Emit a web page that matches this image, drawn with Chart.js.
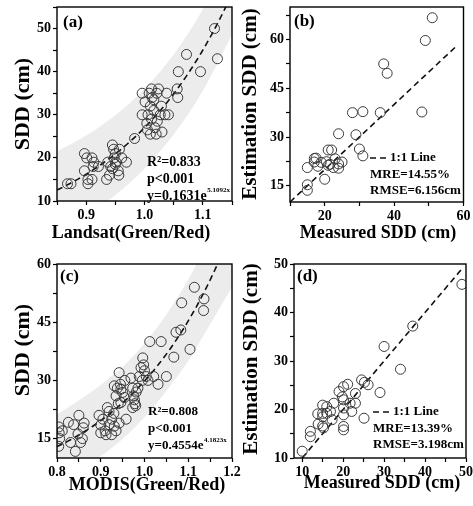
<!DOCTYPE html>
<html>
<head>
<meta charset="utf-8">
<script src="https://cdn.jsdelivr.net/npm/chart.js@4.4.1/dist/chart.umd.min.js"></script>
<style>
  html, body { margin: 0; padding: 0; background: #fff; }
  #fig { position: relative; width: 473px; height: 506px; overflow: hidden; }
  #fig canvas { position: absolute; }
</style>
</head>
<body>
<div id="fig">
  <canvas id="panelA" width="245" height="250" style="left:0;top:0"></canvas>
  <canvas id="panelC" width="245" height="256" style="left:0;top:250px"></canvas>
  <canvas id="panelB" width="236" height="250" style="left:237px;top:0"></canvas>
  <canvas id="panelD" width="236" height="256" style="left:237px;top:250px"></canvas>
</div>
<script>
// (a) Landsat band ratio vs measured SDD
const landsatRatio = [0.868, 0.874, 0.897, 0.901, 0.897, 0.903, 0.903, 0.910, 0.910, 0.913, 0.912, 0.921,
  0.935, 0.937, 0.940, 0.942, 0.945, 0.947, 0.948, 0.950, 0.951, 0.955, 0.956, 0.957, 0.961, 0.969, 0.945, 0.950,
  0.983,
  0.996, 0.996, 1.001, 1.004, 1.005, 1.006, 1.008, 1.010, 1.010, 1.012, 1.013, 1.016, 1.018, 1.020, 1.021, 1.024,
  1.027, 1.029, 1.030, 1.035, 1.038, 1.041, 1.012, 1.016, 1.022,
  1.056, 1.057, 1.058, 1.072, 1.096, 1.120, 1.125];
const landsatSDD = [14, 14, 21, 20, 17, 15, 14, 15, 20, 19, 18, 18,
  15, 19, 16, 18, 23, 22, 20, 21, 19, 17, 16, 22, 20, 19, 17.5, 18.5,
  24.5,
  35, 30, 33, 28, 26.5, 30, 35, 32, 25.5, 29, 34, 31, 27, 25.5, 35, 36,
  30, 32, 26, 30, 35, 30, 36, 33.5, 28.5,
  36, 34, 40, 44, 40, 50, 43];
const landsatFit = { coef: 0.1631, rate: 5.1092, r2: '0.833' };
const landsatBandX = [0.85, 0.90, 0.95, 1.00, 1.05, 1.10, 1.15];
const landsatBandHi = [21.5, 25.2, 29.9, 36, 44, 54.5, 68];
const landsatBandLo = [3, 6.7, 11.4, 17.5, 25.4, 35.5, 48.6];

// (b) Landsat estimate vs measured
const measuredB = [51, 49, 37, 38, 48, 28, 31, 36, 24, 29, 30, 31, 21, 22, 17, 15, 15, 15, 20, 17,
  18, 19, 20.5, 21.5, 23, 24, 25, 24, 22.5, 21, 17.5];
const estimatedB = [66.7, 59.7, 52.5, 49.6, 37.7, 37.5, 37.8, 37.5, 31, 30.7, 26.3, 24.2, 26, 26, 23.4, 20.6, 15.3, 13.6, 17, 22.3,
  21, 22.2, 22.4, 21.6, 23.3, 21.7, 22.3, 20.4, 20.6, 21.3, 23.5];
const statsB = { mre: '14.55%', rmse: '6.156cm' };

// (c) MODIS band ratio vs measured SDD
const modisRatio = [0.804, 0.805, 0.806, 0.804, 0.812, 0.831, 0.838, 0.842, 0.850, 0.854, 0.858, 0.860, 0.862, 0.848, 0.826,
  0.896, 0.900, 0.900, 0.905, 0.910, 0.912, 0.915, 0.919, 0.919, 0.925, 0.930, 0.931, 0.925, 0.935,
  0.931, 0.935, 0.938, 0.942, 0.945, 0.946, 0.946, 0.950, 0.954, 0.955, 0.940, 0.942, 0.958,
  0.969, 0.973, 0.975, 0.977, 0.978, 0.980, 0.981, 0.985, 0.973,
  0.988, 0.992, 0.996, 0.998, 1.000, 1.004, 1.008, 0.995,
  1.012, 1.021, 1.031, 1.038, 1.050, 1.067, 1.072, 1.083, 1.085, 1.104, 1.114, 1.135, 1.136];
const modisSDD = [18, 16.5, 15, 13, 17, 14, 18.6, 11.7, 21, 14, 15, 17.8, 19, 16.2, 19.2,
  21, 18.5, 16.5, 20, 17, 16, 23, 22, 18.6, 20, 21.5, 18.2, 16, 17,
  28.6, 26, 28, 32, 29, 27.7, 24.3, 26.9, 25.6, 30, 24, 19, 20,
  30.6, 28, 26, 25, 24, 23.5, 27, 28, 23,
  31, 33.3, 35.8, 34, 32.5, 31, 30, 30,
  40, 31, 29, 40, 31, 36, 42.4, 43, 50, 38, 54, 48, 51];
const modisFit = { coef: 0.4554, rate: 4.1823, r2: '0.808' };
const modisBandX = [0.80, 0.85, 0.90, 0.95, 1.00, 1.05, 1.10, 1.15, 1.20];
const modisBandHi = [21.3, 24.8, 28.8, 33.5, 39.5, 47, 56, 67, 80];
const modisBandLo = [4.5, 7.3, 10.5, 14.9, 20.5, 27.3, 35, 44.5, 54];

// (d) MODIS estimate vs measured
const measuredD = [49, 37, 30, 34, 29, 24.5, 25.2, 26.1, 23, 23, 21.1, 20.1, 19, 19.8, 20.1, 20.1, 20.1, 20.1, 20.1,
  21.7, 22.1, 25.1, 17.7, 17.3, 16, 16, 15, 15, 15, 15, 15.2, 13.8, 13.9, 12, 12, 10, 16.9];
const estimatedD = [45.8, 37.2, 33, 28.3, 23.5, 26.1, 25.6, 25.1, 23.3, 21.3, 25.2, 24.7, 23.7, 22.6, 22, 20.3, 18.9, 16.5, 15.8,
  21.3, 19.6, 18.2, 21.3, 17.9, 20.6, 19.2, 20.9, 19.2, 18.5, 16.6, 16.2, 19.1, 17, 15.5, 14.4, 11.4, 19.6];
const statsD = { mre: '13.39%', rmse: '3.198cm' };

// 1:1 reference line ends
const lineB = [10, 58];
const lineD = [10, 49];

// axis ranges and ticks (minor ticks carry no label)
const axesA = { xRange: [0.85, 1.15], yRange: [10, 55],
  x: [0.85, 0.9, 0.95, 1.0, 1.05, 1.1, 1.15], xLab: [0.9, 1.0, 1.1],
  y: [10, 15, 20, 25, 30, 35, 40, 45, 50, 55], yLab: [10, 20, 30, 40, 50] };
const axesB = { xRange: [10, 60], yRange: [10, 70],
  x: [10, 20, 30, 40, 50, 60], xLab: [20, 40, 60],
  y: [15, 22.5, 30, 37.5, 45, 52.5, 60, 67.5], yLab: [15, 30, 45, 60] };
const axesC = { xRange: [0.8, 1.2], yRange: [10, 60],
  x: [0.8, 0.85, 0.9, 0.95, 1.0, 1.05, 1.1, 1.15, 1.2], xLab: [0.8, 0.9, 1.0, 1.1, 1.2],
  y: [15, 22.5, 30, 37.5, 45, 52.5, 60], yLab: [15, 30, 45, 60] };
const axesD = { xRange: [8, 50], yRange: [10, 50],
  x: [10, 15, 20, 25, 30, 35, 40, 45, 50], xLab: [10, 20, 30, 40, 50],
  y: [10, 15, 20, 25, 30, 35, 40, 45, 50], yLab: [10, 20, 30, 40, 50] };

const SERIF = '"Liberation Serif", "Times New Roman", serif';
const pairs = (xs, ys) => xs.map((x, i) => ({ x: x, y: ys[i] }));

function fitCurve(fit, x0, x1) {
  const pts = [];
  for (let i = 0; i <= 80; i++) {
    const x = x0 + (x1 - x0) * i / 80;
    pts.push({ x: x, y: fit.coef * Math.exp(fit.rate * x) });
  }
  return pts;
}

function scatterSet(xs, ys) {
  return {
    data: pairs(xs, ys), order: 0,
    pointRadius: 5, pointBorderWidth: 1,
    borderColor: '#3a3a3a', backgroundColor: 'rgba(0,0,0,0)'
  };
}

function dashedSet(points) {
  return {
    data: points, order: 1, showLine: true, pointRadius: 0,
    borderColor: '#111', borderWidth: 1.6, borderDash: [6, 4]
  };
}

function bandSets(xs, hi, lo) {
  const common = { showLine: true, pointRadius: 0, borderWidth: 0, cubicInterpolationMode: 'monotone' };
  return [
    Object.assign({ data: pairs(xs, hi), order: 3, fill: false }, common),
    Object.assign({ data: pairs(xs, lo), order: 2, fill: '-1', backgroundColor: '#ececec' }, common)
  ];
}

// box round the plot area
const frame = {
  id: 'frame',
  afterDraw(chart) {
    const a = chart.chartArea, ctx = chart.ctx;
    ctx.save();
    ctx.strokeStyle = '#000';
    ctx.lineWidth = 1.4;
    ctx.strokeRect(a.left, a.top, a.right - a.left, a.bottom - a.top);
    ctx.restore();
  }
};

// axis titles, panel letters and statistics
const panelText = {
  id: 'panelText',
  afterDraw(chart, args, opts) {
    const ctx = chart.ctx;
    (opts.items || []).forEach(it => {
      ctx.save();
      ctx.fillStyle = '#000';
      ctx.textBaseline = 'middle';
      if (it.dash) {
        ctx.strokeStyle = '#111';
        ctx.lineWidth = 1.6;
        ctx.setLineDash([6, 4]);
        ctx.beginPath();
        ctx.moveTo(it.x, it.y);
        ctx.lineTo(it.x + it.dash, it.y);
        ctx.stroke();
        ctx.restore();
        return;
      }
      ctx.font = 'bold ' + it.size + 'px ' + SERIF;
      ctx.translate(it.x, it.y);
      if (it.rot) ctx.rotate(it.rot);
      ctx.textAlign = it.align || 'left';
      ctx.fillText(it.text, 0, 0);
      if (it.sup) {
        const w = ctx.measureText(it.text).width;
        ctx.font = 'bold ' + Math.round(it.size * 0.5) + 'px ' + SERIF;
        ctx.textAlign = 'left';
        ctx.fillText(it.sup, w + 0.5, -it.size * 0.42);
      }
      ctx.restore();
    });
  }
};

function axis(range, spec, labels, isX, size, digits) {
  return {
    type: 'linear', min: range[0], max: range[1],
    grid: { display: true, drawOnChartArea: false, drawTicks: true, tickLength: 4, tickWidth: 1.2, color: '#000' },
    border: { display: false },
    ticks: {
      autoSkip: false, maxRotation: 0, padding: 2, color: '#000',
      font: { family: SERIF, size: 14, weight: 'bold' },
      callback: v => labels.includes(v) ? (digits ? v.toFixed(digits) : String(v)) : ''
    },
    afterBuildTicks: s => { s.ticks = spec.map(v => ({ value: v })); },
    afterFit: s => {
      if (isX) s.height = size; else s.width = size;
      s.paddingLeft = s.paddingRight = s.paddingTop = s.paddingBottom = 0;
    }
  };
}

function buildPanel(id, area, ax, xDigits, datasets, items) {
  const cv = document.getElementById(id);
  new Chart(cv, {
    type: 'scatter',
    data: { datasets: datasets },
    options: {
      responsive: false, animation: false, devicePixelRatio: 1,
      layout: { padding: { left: 0, top: area.top, right: cv.width - area.right, bottom: 0 } },
      plugins: { legend: { display: false }, tooltip: { enabled: false }, panelText: { items: items } },
      scales: {
        x: axis(ax.xRange, ax.x, ax.xLab, true, cv.height - area.bottom, xDigits),
        y: axis(ax.yRange, ax.y, ax.yLab, false, area.left, 0)
      }
    },
    plugins: [frame, panelText]
  });
}

function fitItems(fit, x, y0, size) {
  return [
    { text: 'R\u00b2=' + fit.r2, x: x, y: y0, size: size },
    { text: 'p<0.001', x: x, y: y0 + 17, size: size },
    { text: 'y=' + fit.coef + 'e', sup: fit.rate + 'x', x: x, y: y0 + 34, size: size }
  ];
}

function statItems(stats, x, y0) {
  return [
    { dash: 16, x: x, y: y0 },
    { text: '1:1 Line', x: x + 20, y: y0, size: 13 },
    { text: 'MRE=' + stats.mre, x: x, y: y0 + 17, size: 13 },
    { text: 'RMSE=' + stats.rmse, x: x, y: y0 + 33, size: 13 }
  ];
}

buildPanel('panelA', { left: 57, top: 7, right: 232, bottom: 201 }, axesA, 1,
  [scatterSet(landsatRatio, landsatSDD), dashedSet(fitCurve(landsatFit, 0.85, 1.15))]
    .concat(bandSets(landsatBandX, landsatBandHi, landsatBandLo)),
  [
    { text: '(a)', x: 63, y: 23, size: 17 },
    { text: 'Landsat(Green/Red)', x: 131, y: 233, size: 18, align: 'center' },
    { text: 'SDD (cm)', x: 23, y: 104, size: 22, align: 'center', rot: -Math.PI / 2 }
  ].concat(fitItems(landsatFit, 147, 162, 14)));

buildPanel('panelB', { left: 53, top: 7, right: 226.5, bottom: 202 }, axesB, 0,
  [scatterSet(measuredB, estimatedB), dashedSet(pairs(lineB, lineB))],
  [
    { text: '(b)', x: 57, y: 22, size: 17 },
    { text: 'Measured SDD (cm)', x: 141, y: 233, size: 18, align: 'center' },
    { text: 'Estimation SDD (cm)', x: 14, y: 104, size: 21, align: 'center', rot: -Math.PI / 2 }
  ].concat(statItems(statsB, 133, 158)));

buildPanel('panelC', { left: 57, top: 14, right: 232, bottom: 208 }, axesC, 1,
  [scatterSet(modisRatio, modisSDD), dashedSet(fitCurve(modisFit, 0.8, 1.2))]
    .concat(bandSets(modisBandX, modisBandHi, modisBandLo)),
  [
    { text: '(c)', x: 60, y: 27, size: 17 },
    { text: 'MODIS(Green/Red)', x: 147, y: 235, size: 18, align: 'center' },
    { text: 'SDD (cm)', x: 23, y: 100, size: 22, align: 'center', rot: -Math.PI / 2 }
  ].concat(fitItems(modisFit, 148, 162, 13)));

buildPanel('panelD', { left: 57, top: 14, right: 229, bottom: 208 }, axesD, 0,
  [scatterSet(measuredD, estimatedD), dashedSet(pairs(lineD, lineD))],
  [
    { text: '(d)', x: 60, y: 27, size: 17 },
    { text: 'Measured SDD (cm)', x: 145, y: 233, size: 18, align: 'center' },
    { text: 'Estimation SDD (cm)', x: 15, y: 109, size: 21, align: 'center', rot: -Math.PI / 2 }
  ].concat(statItems(statsD, 136, 162)));
</script>
</body>
</html>
